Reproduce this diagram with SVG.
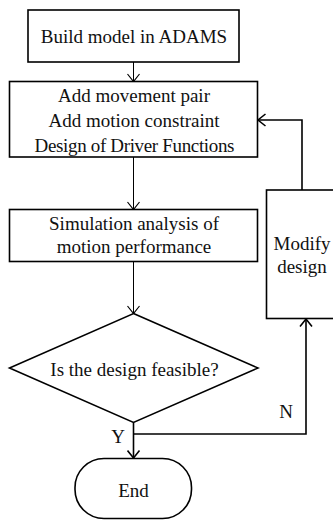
<svg xmlns="http://www.w3.org/2000/svg" width="333" height="520" viewBox="0 0 333 520">
<defs>
<style>
.box{fill:#fff;stroke:#000;stroke-width:1.6}
text.t{font-family:'Liberation Serif',serif !important;font-size:19px;fill:#111;text-anchor:middle}
.c{fill:none;stroke:#000;stroke-width:1}
.c2{fill:none;stroke:#000;stroke-width:1.6}
</style>
<marker id="ah" markerWidth="14" markerHeight="14" viewBox="-8 -7 10 14" refX="0" refY="0" orient="auto" markerUnits="userSpaceOnUse">
<path d="M-7.5,-6 L0,0 L-7.5,6" fill="none" stroke="#000" stroke-width="1.2"/>
</marker>
<marker id="ah2" markerWidth="14" markerHeight="14" viewBox="-8 -7 10 14" refX="0" refY="0" orient="auto" markerUnits="userSpaceOnUse">
<path d="M-7.5,-6 L0,0 L-7.5,6" fill="none" stroke="#000" stroke-width="1.6"/>
</marker>
</defs>
<rect width="333" height="520" fill="#fff"/>
<g id="connectors">
<line class="c" x1="133.5" y1="62" x2="133.5" y2="81.5" marker-end="url(#ah)"/>
<line class="c" x1="133.5" y1="157" x2="133.5" y2="209.5" marker-end="url(#ah)"/>
<line class="c" x1="133.5" y1="261.5" x2="133.5" y2="313.5" marker-end="url(#ah)"/>
<line class="c2" x1="133.5" y1="422.5" x2="133.5" y2="458" marker-end="url(#ah2)"/>
<polyline class="c2" points="133.5,434 306,434 306,319" marker-end="url(#ah2)"/>
<polyline class="c2" points="302,190 302,120 258,120" marker-end="url(#ah2)"/>
<text class="t" style="font-family:'Liberation Serif',serif" x="118" y="443">Y</text>
<text class="t" style="font-family:'Liberation Serif',serif" x="286" y="418">N</text>
</g>
<g id="build">
<rect class="box" x="28" y="10" width="211" height="52"/>
<text class="t" style="font-family:'Liberation Serif',serif" x="134" y="43">Build model in ADAMS</text>
</g>
<g id="add">
<rect class="box" x="9.5" y="81.5" width="248" height="75.5"/>
<text class="t" style="font-family:'Liberation Serif',serif" x="134" y="102">Add movement pair</text>
<text class="t" style="font-family:'Liberation Serif',serif" x="134" y="127">Add motion constraint</text>
<text class="t" style="font-family:'Liberation Serif',serif" x="134.5" y="152" textLength="200" lengthAdjust="spacing">Design of Driver Functions</text>
</g>
<g id="sim">
<rect class="box" x="9.5" y="209.5" width="248" height="52"/>
<text class="t" style="font-family:'Liberation Serif',serif" x="134" y="229.5">Simulation analysis of</text>
<text class="t" style="font-family:'Liberation Serif',serif" x="134" y="253">motion performance</text>
</g>
<g id="decision">
<polygon class="box" points="133.5,313.5 258,368 133.5,422.5 9.5,368"/>
<text class="t" style="font-family:'Liberation Serif',serif" x="134.5" y="376">Is the design feasible?</text>
</g>
<g id="modify">
<rect class="box" x="266.5" y="190" width="80" height="128.5"/>
<text class="t" style="font-family:'Liberation Serif',serif" x="302" y="250">Modify</text>
<text class="t" style="font-family:'Liberation Serif',serif" x="302" y="273">design</text>
</g>
<g id="end">
<rect class="box" x="75" y="458.5" width="116.5" height="60" rx="29" ry="29"/>
<text class="t" style="font-family:'Liberation Serif',serif" x="133.5" y="496.5">End</text>
</g>
</svg>
